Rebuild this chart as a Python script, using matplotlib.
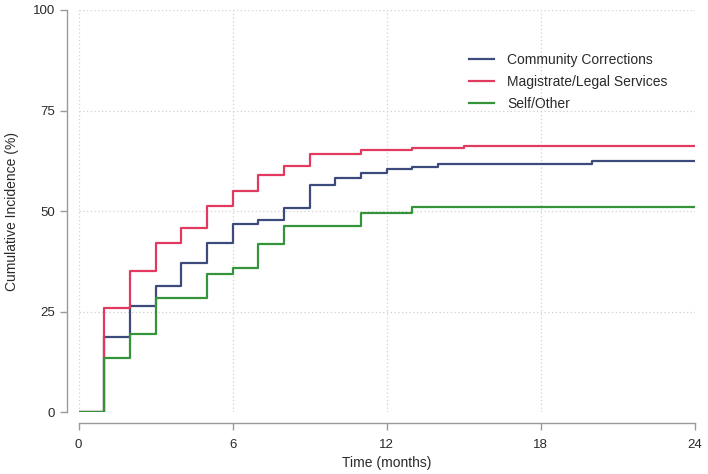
import matplotlib
matplotlib.use("Agg")
import matplotlib.pyplot as plt

# Data (time in months, cumulative incidence in %)
cc_time = [0, 1, 2, 3, 4, 5, 6, 7, 8, 9, 10, 11, 12, 13, 14, 20, 24]
cc_vals = [0, 18.7, 26.3, 31.4, 37.1, 42.2, 46.7, 47.8, 50.8, 56.5, 58.3, 59.6, 60.4, 60.9, 61.7, 62.5, 62.5]

ml_time = [0, 1, 2, 3, 4, 5, 6, 7, 8, 9, 11, 12, 13, 15, 24]
ml_vals = [0, 26.0, 35.2, 42.2, 45.7, 51.2, 55.0, 58.9, 61.3, 64.1, 65.1, 65.3, 65.7, 66.3, 66.3]

so_time = [0, 1, 2, 3, 5, 6, 7, 8, 11, 13, 24]
so_vals = [0, 13.4, 19.5, 28.5, 34.3, 35.8, 41.8, 46.2, 49.5, 51.1, 51.1]

labels = ["Community Corrections", "Magistrate/Legal Services", "Self/Other"]
colors = ["#3d4b7c", "#e23a5e", "#35943a"]

xticks = [0, 6, 12, 18, 24]
yticks = [0, 25, 50, 75, 100]

plt.rcParams['font.family'] = ['Liberation Sans', 'DejaVu Sans']

fig = plt.figure(figsize=(7.08, 4.74), dpi=100)
ax = fig.add_axes([78.5 / 708, 61.7 / 474, (695 - 78.5) / 708, (412.3 - 10) / 474])

for t, v, lab, c in zip([cc_time, ml_time, so_time], [cc_vals, ml_vals, so_vals], labels, colors):
    ax.step(t, v, where='post', color=c, lw=1.6, label=lab)

ax.set_xlim(0, 24)
ax.set_ylim(0, 100)
ax.set_xticks(xticks)
ax.set_yticks(yticks)
ax.grid(True, color='#d0d0d0', linestyle=(0, (1, 2)), lw=0.9)
ax.set_axisbelow(True)

for s in ['top', 'right']:
    ax.spines[s].set_visible(False)
ax.spines['left'].set_position(('outward', 8.3))
ax.spines['bottom'].set_position(('outward', 8))
for s in ['left', 'bottom']:
    ax.spines[s].set_color('#9a9a9a')
    ax.spines[s].set_linewidth(1.0)
ax.tick_params(axis='both', colors='#9a9a9a', labelcolor='#2a2a2a', labelsize=9.5, length=5, width=1.0)
ax.tick_params(axis='x', pad=6)

ax.set_xlabel("Time (months)", fontsize=10, color='#2a2a2a', labelpad=4)
ax.set_ylabel("Cumulative Incidence (%)", fontsize=10, color='#2a2a2a', labelpad=10)

ax.legend(loc='upper left', bbox_to_anchor=(0.613, 0.925), frameon=False, fontsize=10,
          handlelength=1.8, handletextpad=0.95, labelspacing=0.6, labelcolor='#2a2a2a')

fig.savefig("out.png", dpi=100)
